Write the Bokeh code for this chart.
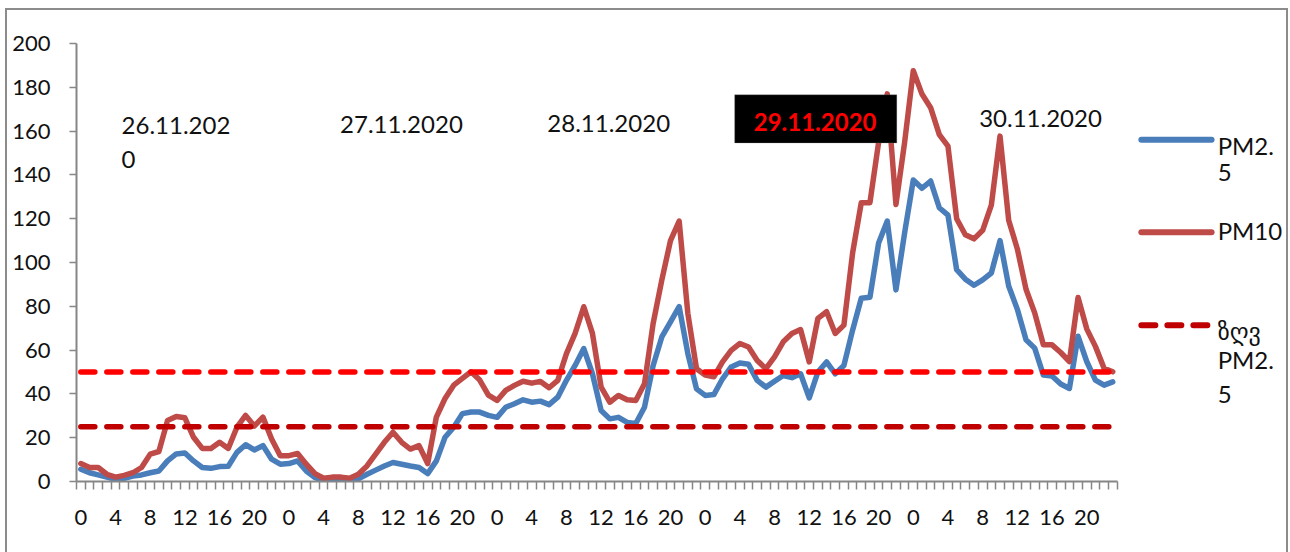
from bokeh.plotting import figure
from bokeh.models import FixedTicker, Range1d, BoxAnnotation, Label
from bokeh.core.properties import value
from bokeh.embed import file_html
from bokeh.resources import INLINE

# ---------------- data ----------------
dates = ["26.11.2020", "27.11.2020", "28.11.2020", "29.11.2020", "30.11.2020"]
hours = list(range(24)) * 5
tick_hours = [0, 4, 8, 12, 16, 20]

pm25 = [
    5.6, 4.0, 3.0, 2.0, 1.0, 1.5, 2.5, 3.0, 4.0, 4.8, 9.4, 12.6, 13.0, 9.4, 6.4, 6.0, 6.8, 7.0, 13.3, 16.8, 14.4, 16.4, 10.2, 7.9,
    8.2, 9.4, 4.8, 1.8, 0.2, 0.2, 0.5, 0.2, 1.2, 3.3, 5.2, 7.1, 8.7, 7.9, 7.1, 6.4, 3.6, 9.4, 20.2, 24.8, 31.0, 31.7, 31.7, 30.2,
    29.3, 33.9, 35.5, 37.3, 36.2, 36.7, 35.1, 38.5, 46.2, 53.0, 60.7, 49.2, 32.4, 28.6, 29.3, 27.0, 26.5, 33.9, 53.0, 66.0, 72.9, 79.8, 58.4, 42.3,
    39.3, 39.7, 46.9, 52.3, 54.1, 53.5, 46.2, 43.1, 45.8, 48.4, 47.4, 49.2, 38.2, 50.0, 54.6, 49.2, 53.0, 69.1, 83.7, 84.1, 108.9, 118.9, 87.5, 113.5,
    137.7, 133.9, 137.2, 125.0, 121.6, 96.7, 92.4, 89.6, 92.1, 95.2, 110.0, 89.3, 78.6, 64.7, 60.9, 48.6, 48.2, 44.5, 42.5, 66.3, 54.8, 46.3, 44.0, 45.5,
]
pm10 = [
    8.2, 6.4, 6.4, 3.3, 2.0, 2.8, 4.0, 6.4, 12.5, 13.7, 27.9, 29.7, 29.1, 20.2, 15.1, 15.1, 17.9, 15.1, 24.8, 30.2, 25.3, 29.4, 19.4, 11.8,
    11.8, 12.8, 7.9, 3.6, 1.5, 2.0, 2.0, 1.5, 3.3, 7.1, 12.5, 17.9, 22.5, 17.9, 14.8, 16.4, 8.2, 29.4, 37.9, 44.0, 47.1, 50.1, 46.3, 39.4,
    37.0, 41.6, 43.9, 45.8, 44.9, 45.7, 42.8, 46.2, 58.4, 67.6, 79.8, 67.6, 43.1, 36.2, 39.3, 37.3, 37.0, 44.6, 72.2, 92.0, 110.0, 118.9, 76.8, 51.5,
    48.6, 47.8, 54.6, 59.9, 63.0, 61.4, 55.3, 51.5, 56.9, 63.8, 67.6, 69.4, 54.6, 74.5, 77.5, 67.6, 71.4, 104.3, 127.3, 127.3, 154.9, 177.0, 126.5, 154.9,
    187.6, 176.9, 170.7, 158.4, 153.1, 120.0, 112.7, 110.8, 114.7, 126.2, 157.7, 119.3, 106.2, 87.8, 77.0, 62.4, 62.4, 58.9, 54.8, 84.0, 69.7, 61.7, 51.7, 50.1,
]
limit_pm10 = [50] * 120
limit_pm25 = [25] * 120
series_names = ["PM2.5", "PM10", "ზღვ PM2.5"]

# ---------------- style / layout ----------------
FONT = "Lato, 'DejaVu Sans'"
TXT = "#111111"
AX = "#868686"
C25 = "#4A7EBB"
C10 = "#BE4B48"
CL50 = "#FF0000"
CL25 = "#C00000"

n = len(pm25)
x = [i + 0.5 for i in range(n)]

p = figure(width=1283, height=544, x_range=Range1d(0, 140.0), y_range=Range1d(0, 200),
           output_backend="svg", toolbar_location=None,
           min_border_left=69, min_border_right=0, min_border_top=33, min_border_bottom=73)
p.styles = {"border": "2px solid #8c8c8c", "border-bottom": "none",
            "margin-left": "5px", "margin-top": "8px"}
p.outline_line_color = None
p.xgrid.visible = False
p.ygrid.visible = False
p.background_fill_color = "white"
p.border_fill_color = "white"

xa = p.xaxis[0]
major = [i + 0.5 for i in range(n) if hours[i] in tick_hours]
xa.ticker = FixedTicker(ticks=major, minor_ticks=list(range(n + 1)))
xa.major_label_overrides = {i + 0.5: str(hours[i]) for i in range(n) if hours[i] in tick_hours}
xa.bounds = (0, n)
xa.axis_line_color = AX
xa.axis_line_width = 2
xa.major_tick_in = 0
xa.major_tick_out = 0
xa.minor_tick_in = 0
xa.minor_tick_out = 8
xa.minor_tick_line_color = AX
xa.minor_tick_line_width = 1.5
xa.major_label_standoff = 20
xa.major_label_text_font = FONT
xa.major_label_text_font_size = "22px"
xa.major_label_text_color = TXT

ya = p.yaxis[0]
ya.ticker = FixedTicker(ticks=list(range(0, 201, 20)), minor_ticks=[])
ya.bounds = (0, 200)
ya.axis_line_color = AX
ya.axis_line_width = 2
ya.major_tick_in = 0
ya.major_tick_out = 7
ya.major_tick_line_color = AX
ya.major_tick_line_width = 1.5
ya.minor_tick_line_color = None
ya.major_label_standoff = 19
ya.major_label_text_font = FONT
ya.major_label_text_font_size = "22px"
ya.major_label_text_color = TXT

# data series
p.line(x, pm25, line_color=C25, line_width=5.5, line_join="round", line_cap="round")
p.line(x, pm10, line_color=C10, line_width=5.5, line_join="round", line_cap="round")
p.line(x, limit_pm10, line_color=CL50, line_width=5.5, line_dash="14 12", line_cap="round")
p.line(x, limit_pm25, line_color=CL25, line_width=5.5, line_dash="14 12", line_cap="round")

# legend (manual)
leg_x0, leg_x1, leg_tx = 122.8, 130.9, 131.6
p.line([leg_x0, leg_x1], [156.0, 156.0], line_color=C25, line_width=6, line_cap="round")
p.line([leg_x0, leg_x1], [113.8, 113.8], line_color=C10, line_width=6, line_cap="round")
p.line([leg_x0, leg_x1], [71.4, 71.4], line_color=CL25, line_width=6, line_cap="round", line_dash="14 12")

def lab(xx, yy, t, color=TXT, bold=False, size="24px"):
    p.add_layout(Label(x=xx, y=yy, text=t, text_font=FONT, text_font_size=size,
                       text_color=color, text_baseline="middle", text_align="left",
                       text_font_style="bold" if bold else "normal"))

lab(leg_tx, 153.5, "PM2.")
lab(leg_tx, 141.0, "5")
lab(leg_tx, 114.6, "PM10")
lab(leg_tx, 68.9, "ზღვ")
lab(leg_tx, 55.9, "PM2.")
lab(leg_tx, 39.9, "5")

# date labels
lab(5.2, 162.6, dates[0][:-1])
lab(5.2, 146.9, dates[0][-1])
lab(30.4, 163.0, dates[1])
lab(54.3, 163.5, dates[2])
p.add_layout(BoxAnnotation(left=75.9, right=94.6, bottom=154.6, top=176.6,
                           fill_color="black", fill_alpha=1.0, line_color="#7f7f7f", line_width=1))
lab(78.1, 164.0, dates[3], color="#FF0000", bold=True)
lab(104.1, 165.8, dates[4])

open("out.html", "w").write(file_html(p, INLINE))
